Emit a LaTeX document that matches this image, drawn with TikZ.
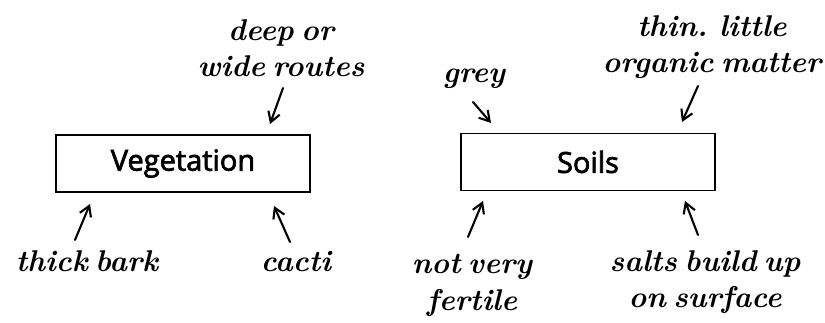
\documentclass[tikz,border=0pt]{standalone}
\usepackage{fontspec}
\newfontfamily\boxfont[FakeBold=2.5]{Open Sans}
\newcommand\handfont{\bfseries\itshape\fontsize{30}{36}\selectfont
  \spaceskip=.25em plus .05em\relax}
\usetikzlibrary{arrows.meta}
\tikzset{
  topic/.style={draw, line width=1.2pt, minimum width=254pt, minimum height=57pt,
    inner sep=0pt, font=\boxfont\fontsize{29}{32}\selectfont},
  note/.style={align=center, anchor=base, inner sep=0pt, font=\handfont},
  pointer/.style={line width=2.1pt, line cap=round,
    -{Straight Barb[length=10pt, width=12pt, line width=2.1pt]}}
}
\begin{document}
\begin{tikzpicture}[x=1pt, y=-1pt]
  \useasboundingbox (0,0) rectangle (825,323);

  % the two topic boxes
  \node[topic] (veg) at (183,163.5) {Vegetation};
  \node[topic] (soil) at (588,162) {Soils};

  % notes about vegetation
  \node[note] (roots) at (281,77) {deep or\\wide routes};
  \node[note] (bark) at (87,272) {thick bark};
  \node[note] (cacti) at (296,272) {cacti};

  % notes about soils
  \node[note] (grey) at (474,83) {grey};
  \node[note] (thin) at (712,73) {thin. little\\organic matter};
  \node[note] (fert) at (472,310) {not very\\fertile};
  \node[note] (salt) at (705,308) {salts build up\\on surface};

  % arrow ends
  \coordinate (r1) at (283,88);  \coordinate (r2) at (270,124);
  \coordinate (b1) at (75,240);  \coordinate (b2) at (90,204);
  \coordinate (c1) at (290,242); \coordinate (c2) at (274,206);
  \coordinate (g1) at (473,102); \coordinate (g2) at (491,123);
  \coordinate (t1) at (698,86);  \coordinate (t2) at (682,122);
  \coordinate (f1) at (468,237); \coordinate (f2) at (483,201);
  \coordinate (s1) at (698,235); \coordinate (s2) at (685,201);

  \draw[pointer] (r1) -- (r2);
  \draw[pointer] (b1) -- (b2);
  \draw[pointer] (c1) -- (c2);
  \draw[pointer] (g1) -- (g2);
  \draw[pointer] (t1) -- (t2);
  \draw[pointer] (f1) -- (f2);
  \draw[pointer] (s1) -- (s2);
\end{tikzpicture}
\end{document}
